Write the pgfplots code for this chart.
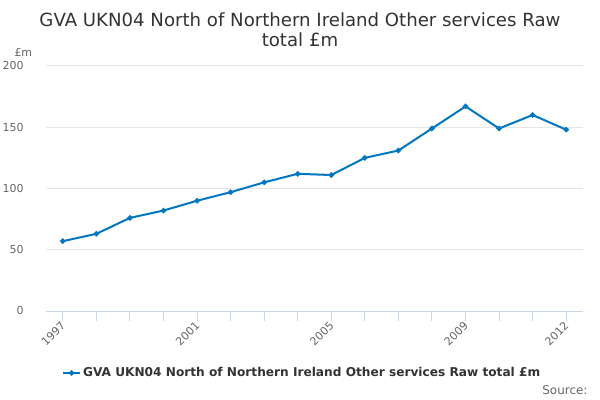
\documentclass[border=0pt]{standalone}
\usepackage{fontspec}
\setmainfont{DejaVu Sans}
\usepackage{pgfplots}
\pgfplotsset{compat=1.18}
\definecolor{serie}{RGB}{0,119,192}
\definecolor{gridc}{HTML}{E6E6E6}
\definecolor{axisc}{HTML}{CCD6EB}
\definecolor{labc}{HTML}{666666}
\definecolor{titc}{HTML}{333333}
\begin{document}
\begin{tikzpicture}
\fill[white] (0,0) rectangle (600bp,400bp);
\path[use as bounding box] (0,0) rectangle (600bp,400bp);
\begin{axis}[
  at={(46bp,89bp)}, anchor=south west,
  scale only axis, width=537bp, height=245bp,
  xmin=1996.5, xmax=2012.5, ymin=0, ymax=200,
  ytick={0,50,...,200},
  xtick={1997,2001,2005,2009,2012},
  xticklabels={1997,2001,2005,2009,2012},
  minor xtick={1998,1999,2000,2002,2003,2004,2006,2007,2008,2010,2011},
  axis lines*=left,
  y axis line style={draw=none},
  x axis line style={draw=axisc, line width=1bp},
  ytick style={draw=none},
  xtick style={draw=axisc, line width=1bp},
  minor x tick style={draw=axisc, line width=1bp},
  tick align=outside,
  major tick length=10bp, minor tick length=10bp,
  ymajorgrids, grid style={draw=gridc, line width=1bp},
  /pgf/number format/assume math mode=true,
  tick label style={font=\fontsize{11}{13}\selectfont, text=labc},
  yticklabel style={anchor=east, xshift=-9bp},
  xticklabel style={rotate=45, anchor=east, xshift=2bp, yshift=-2bp},
  legend style={at={(0.477,-0.253)}, anchor=center, draw=none, fill=none,
    font=\bfseries\fontsize{12.2}{14}\selectfont, text=titc},
]
\addplot[serie, line width=2bp, mark=*, mark size=1.6bp] coordinates {
(1997,57) (1998,63) (1999,76) (2000,82) (2001,90) (2002,97) (2003,105) (2004,112)
(2005,111) (2006,125) (2007,131) (2008,149) (2009,167) (2010,149) (2011,160) (2012,148)
};
\addlegendentry{GVA UKN04 North of Northern Ireland Other services Raw total £m}
\end{axis}
\node[text=titc, font=\fontsize{18.2}{20}\selectfont, align=center] at (300bp,370bp) {GVA UKN04 North of Northern Ireland Other services Raw\\total £m};
\node[text=labc, font=\fontsize{11}{13}\selectfont, anchor=west] at (11bp,348bp) {£m};
\node[text=labc, font=\fontsize{12}{14}\selectfont, anchor=east] at (591bp,10bp) {Source:};
\end{tikzpicture}
\end{document}
